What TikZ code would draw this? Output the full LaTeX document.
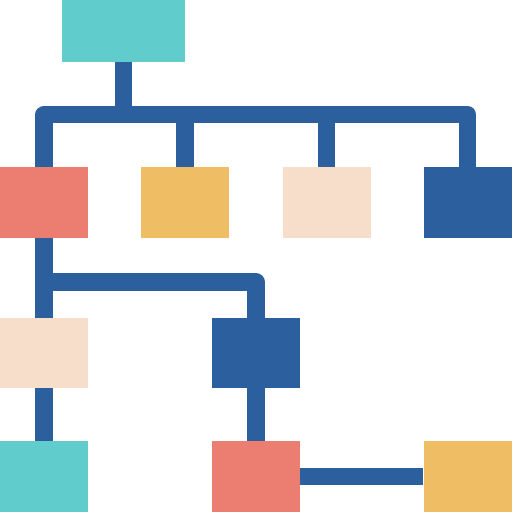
\documentclass[tikz,border=0pt]{standalone}
\usepackage{xcolor}

\definecolor{boxteal}{HTML}{61CCCC}
\definecolor{boxred}{HTML}{EC7D71}
\definecolor{boxyellow}{HTML}{EFBE64}
\definecolor{boxpeach}{HTML}{F6DECA}
\definecolor{linkblue}{HTML}{2B5F9D}

\tikzset{
  box/.style={rectangle, draw=none, inner sep=0pt, minimum width=88pt, minimum height=70.5pt},
  link/.style={draw=linkblue, line width=17.5pt, line join=round}
}

\begin{document}
\begin{tikzpicture}[x=1pt,y=1pt]

    \useasboundingbox (0,0) rectangle (512,512);

    % boxes
    \node[box, fill=boxteal, minimum width=123pt, minimum height=62pt] (root) at (123.5,481) {};

    \node[box, fill=boxred]    (redA)    at (44,309.5)    {};
    \node[box, fill=boxyellow] (yellowA) at (185,309.5)   {};
    \node[box, fill=boxpeach]  (peachA)  at (326.5,309.5) {};
    \node[box, fill=linkblue]  (blueA)   at (467.5,309.5) {};

    \node[box, fill=boxpeach]  (peachB)  at (44,159)  {};
    \node[box, fill=linkblue]  (blueB)   at (256,159) {};

    \node[box, fill=boxteal]   (tealC)   at (44,35.5)    {};
    \node[box, fill=boxred]    (redC)    at (256,35.5)   {};
    \node[box, fill=boxyellow] (yellowC) at (467.5,35.5) {};

    \coordinate (bus)  at (256,397.25);
    \coordinate (bend) at (256,230);

    % connectors
    \draw[link] (redA.north) |- (bus) -| (blueA.north);
    \draw[link] (root.south) -- (root.south |- bus);
    \draw[link] (yellowA.north) -- (yellowA.north |- bus);
    \draw[link] (peachA.north) -- (peachA.north |- bus);

    \draw[link] (redA.south) -- (peachB.north);
    \draw[link] (redA.south |- bend) -| (blueB.north);

    \draw[link] (peachB.south) -- (tealC.north);
    \draw[link] (blueB.south) -- (redC.north);
    \draw[link] (redC.east) -- (yellowC.west);

\end{tikzpicture}
\end{document}
